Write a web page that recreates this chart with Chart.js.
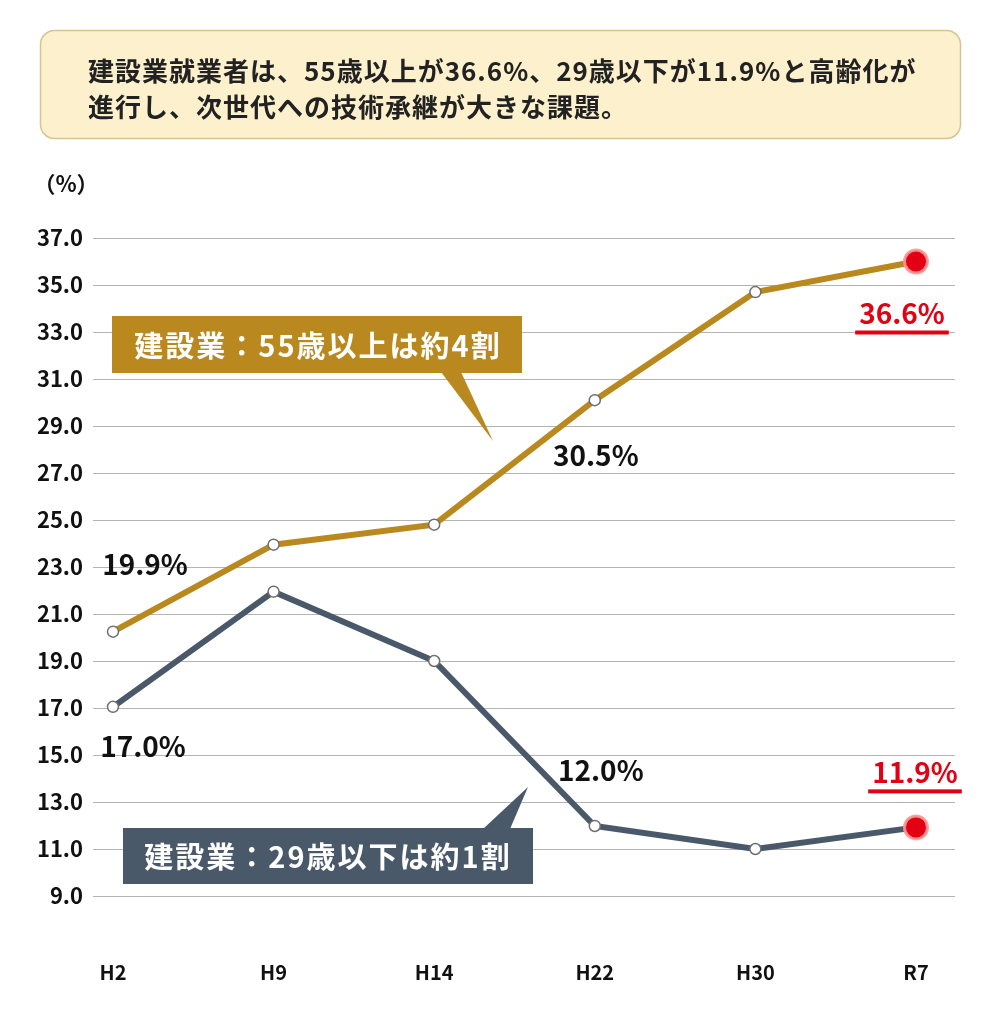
<!DOCTYPE html>
<html lang="ja">
<head>
<meta charset="utf-8">
<title>建設業就業者の年齢構成</title>
<script src="https://cdn.jsdelivr.net/npm/chart.js@4.4.1/dist/chart.umd.min.js"></script>
<style>
  html, body { margin: 0; padding: 0; background: #fff; }
  #wrap { width: 1000px; height: 1036px; position: relative; }
</style>
</head>
<body>
<div id="wrap"><canvas id="chart" width="1000" height="1036"></canvas></div>
<script>
// data
const labels = ['H2', 'H9', 'H14', 'H22', 'H30', 'R7'];
const over55 = [20.25, 23.95, 24.8, 30.1, 34.7, 36.0];
const under29 = [17.05, 21.95, 19.0, 11.98, 11.0, 11.92];
const over55Text = ['19.9%', '', '', '30.5%', '', '36.6%'];
const under29Text = ['17.0%', '', '', '12.0%', '', '11.9%'];
const yMin = 9, yMax = 37, yStep = 2;
const headline = [
  '建設業就業者は、55歳以上が36.6%、29歳以下が11.9%と高齢化が',
  '進行し、次世代への技術承継が大きな課題。'
];
const callout55 = '建設業：55歳以上は約4割';
const callout29 = '建設業：29歳以下は約1割';
const unitLabel = '（%）';

const FONT = "'Noto Sans CJK JP', 'Noto Sans', sans-serif";
const GOLD = '#b9891f';
const SLATE = '#4a5969';
const RED = '#e20012';
const last = labels.length - 1;

function roundRect(ctx, x, y, w, h, r){
  ctx.beginPath();
  ctx.moveTo(x + r, y);
  ctx.arcTo(x + w, y, x + w, y + h, r);
  ctx.arcTo(x + w, y + h, x, y + h, r);
  ctx.arcTo(x, y + h, x, y, r);
  ctx.arcTo(x, y, x + w, y, r);
  ctx.closePath();
}

// headline box, unit label, callouts and value labels
const decor = {
  id: 'decor',
  beforeDraw(chart){
    const ctx = chart.ctx;
    ctx.save();
    ctx.fillStyle = '#fff';
    ctx.fillRect(0, 0, chart.width, chart.height);
    roundRect(ctx, 40.5, 30.5, 920, 108, 14);
    ctx.fillStyle = '#fcf0cd';
    ctx.fill();
    ctx.strokeStyle = '#d7c48e';
    ctx.lineWidth = 1.5;
    ctx.stroke();
    ctx.fillStyle = '#222';
    ctx.font = 'bold 26px ' + FONT;
    ctx.letterSpacing = '1px';
    ctx.textAlign = 'left';
    ctx.textBaseline = 'middle';
    ctx.fillText(headline[0], 88, 71);
    ctx.fillText(headline[1], 88, 107);
    ctx.letterSpacing = '0px';
    ctx.font = 'bold 22px ' + FONT;
    ctx.textAlign = 'center';
    ctx.fillStyle = '#111';
    ctx.fillText(unitLabel, 66, 184);
    ctx.restore();
  },
  afterDatasetsDraw(chart){
    const ctx = chart.ctx;
    ctx.save();
    // gold callout
    ctx.fillStyle = GOLD;
    ctx.beginPath();
    ctx.moveTo(441, 372); ctx.lineTo(461, 372); ctx.lineTo(493, 441); ctx.closePath(); ctx.fill();
    ctx.fillRect(112, 316, 410, 57);
    // slate callout
    ctx.fillStyle = SLATE;
    ctx.beginPath();
    ctx.moveTo(483, 829); ctx.lineTo(510, 829); ctx.lineTo(528, 787); ctx.closePath(); ctx.fill();
    ctx.fillRect(123, 828, 410, 56);
    ctx.fillStyle = '#fff';
    ctx.font = 'bold 29px ' + FONT;
    ctx.letterSpacing = '2px';
    ctx.textAlign = 'center';
    ctx.textBaseline = 'middle';
    ctx.fillText(callout55, 318, 346);
    ctx.fillText(callout29, 328, 857);
    ctx.letterSpacing = '0px';

    // value labels next to points
    const offs = [
      {0: [32, -67], 3: [1, 55], 5: [-14, 52]},
      {0: [30, 40], 3: [6, -56], 5: [-1, -55]}
    ];
    const texts = [over55Text, under29Text];
    ctx.font = 'bold 28px ' + FONT;
    [0, 1].forEach(di => {
      const meta = chart.getDatasetMeta(di);
      texts[di].forEach((t, i) => {
        if (!t) return;
        const p = meta.data[i];
        const o = offs[di][i] || [0, -40];
        const x = p.x + o[0], y = p.y + o[1];
        const isLast = i === last;
        ctx.fillStyle = isLast ? RED : '#111';
        ctx.fillText(t, x, y);
        if (isLast) {
          const w = ctx.measureText(t).width + 8;
          ctx.fillRect(x - w / 2, y + 17, w, 4);
        }
      });
    });
    ctx.restore();
  }
};

const pointStyle = {
  pointRadius: c => c.dataIndex === last ? 11.5 : 5.5,
  pointBackgroundColor: c => c.dataIndex === last ? RED : '#fff',
  pointBorderColor: c => c.dataIndex === last ? 'rgba(255,150,150,0.9)' : '#6e6e6e',
  pointBorderWidth: c => c.dataIndex === last ? 3 : 1.5,
  pointHoverRadius: 0
};

new Chart(document.getElementById('chart'), {
  type: 'line',
  data: {
    datasets: [
      { label: '55歳以上', data: over55.map((v, i) => ({x: i, y: v})), borderColor: GOLD, borderWidth: 6, ...pointStyle },
      { label: '29歳以下', data: under29.map((v, i) => ({x: i, y: v})), borderColor: SLATE, borderWidth: 6, ...pointStyle }
    ]
  },
  options: {
    responsive: false,
    devicePixelRatio: 1,
    animation: false,
    layout: { padding: { left: 0, right: 45, top: 238, bottom: 0 } },
    plugins: { legend: { display: false }, tooltip: { enabled: false } },
    scales: {
      x: {
        type: 'linear',
        min: -0.1245,
        max: 5.243,
        grid: { display: false, drawTicks: false },
        border: { display: false },
        afterBuildTicks: s => { s.ticks = labels.map((l, i) => ({value: i})); },
        afterFit: s => { s.height = 140; },
        ticks: {
          padding: 64,
          maxRotation: 0,
          autoSkip: false,
          color: '#111',
          font: { family: FONT, size: 20, weight: 'bold' },
          callback: v => labels[v]
        }
      },
      y: {
        min: yMin,
        max: yMax,
        grid: { color: '#b4b4b4', lineWidth: 1, drawTicks: false },
        border: { display: false },
        afterFit: s => { s.width = 93; },
        ticks: {
          stepSize: yStep,
          padding: 10,
          color: '#111',
          font: { family: FONT, size: 22, weight: 'bold' },
          callback: v => v.toFixed(1)
        }
      }
    }
  },
  plugins: [decor]
});
</script>
</body>
</html>
